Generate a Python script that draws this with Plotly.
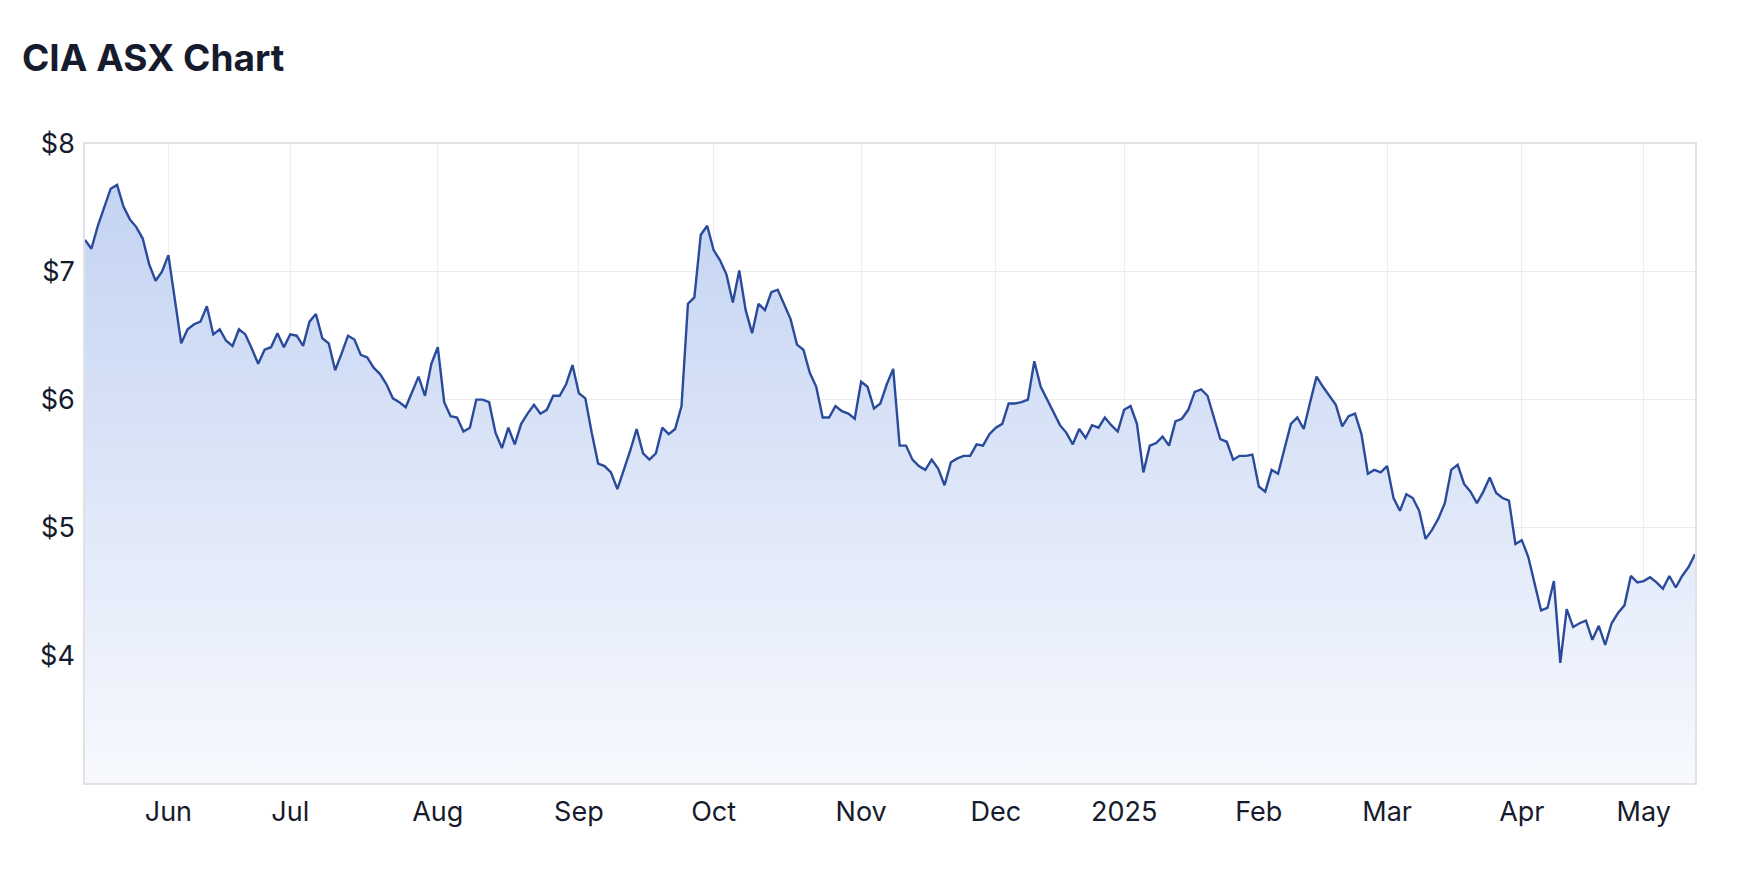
import pandas as pd
import plotly.graph_objects as go

# ---- data ----
START_DATE = "2024-05-15"
END_DATE = "2025-05-13"
ASX_HOLIDAYS = ["2024-06-10", "2024-12-25", "2024-12-26", "2025-01-01",
                "2025-01-27", "2025-04-18", "2025-04-21", "2025-04-25"]

PRICES = [
    7.25, 7.18, 7.36, 7.50, 7.65, 7.68, 7.51, 7.41, 7.35, 7.26, 7.06, 6.93, 7.00, 7.13,
    6.78,
    6.44, 6.55, 6.59, 6.61, 6.73, 6.51, 6.55, 6.46, 6.42, 6.55, 6.51, 6.40, 6.28, 6.39, 6.41, 6.52, 6.41,
    6.51, 6.50, 6.42, 6.61, 6.67, 6.48, 6.44, 6.23, 6.36, 6.50, 6.47, 6.35, 6.33, 6.25, 6.20, 6.12,
    6.01, 5.98, 5.94, 6.06, 6.18, 6.03, 6.28, 6.41,
    5.98, 5.87, 5.86, 5.75, 5.78,
    6.00, 6.00, 5.98, 5.74, 5.62, 5.78, 5.65, 5.81, 5.89, 5.96,
    5.89, 5.92, 6.03, 6.03, 6.12, 6.27, 6.05, 6.01, 5.74, 5.50,
    5.48, 5.43, 5.30, 5.45, 5.60, 5.77, 5.58, 5.53, 5.58, 5.78,
    5.73, 5.77, 5.95, 6.75, 6.80, 7.29, 7.36, 7.17, 7.09, 6.98,
    6.76, 7.01, 6.70, 6.52, 6.75, 6.70, 6.84, 6.86, 6.75, 6.63,
    6.43, 6.39, 6.21, 6.10, 5.86, 5.86, 5.95, 5.91, 5.89, 5.85,
    6.14, 6.10, 5.93, 5.97, 6.12, 6.24, 5.64, 5.64, 5.53, 5.48,
    5.45, 5.53, 5.46, 5.33, 5.51, 5.54, 5.56, 5.56, 5.65, 5.64,
    5.73, 5.78, 5.81, 5.97, 5.97, 5.98, 6.00, 6.30, 6.10, 6.00,
    5.89, 5.80, 5.74, 5.65, 5.77, 5.70, 5.80, 5.78, 5.86, 5.80,
    5.75, 5.92, 5.95, 5.81, 5.43, 5.64, 5.66, 5.71, 5.64, 5.83,
    5.85, 5.92, 6.06, 6.08, 6.03, 5.86, 5.69, 5.67, 5.53, 5.56,
    5.56, 5.57, 5.32, 5.28, 5.45, 5.42, 5.61, 5.81, 5.86, 5.77,
    5.98, 6.18, 6.10, 6.03, 5.96, 5.79, 5.87, 5.89, 5.73, 5.42,
    5.45, 5.43, 5.48, 5.23, 5.13, 5.26, 5.23, 5.13, 4.91, 4.98,
    5.07, 5.19, 5.45, 5.49, 5.34, 5.28, 5.19, 5.28, 5.39, 5.27,
    5.23, 5.21, 4.87, 4.90, 4.77, 4.56, 4.35, 4.37, 4.58, 3.94,
    4.36, 4.22, 4.25, 4.27, 4.12, 4.23, 4.08, 4.25, 4.33, 4.39,
    4.62, 4.57, 4.58, 4.61, 4.57, 4.52, 4.62, 4.53, 4.62, 4.69, 4.79,
]

MONTH_LABELS = ["Jun", "Jul", "Aug", "Sep", "Oct", "Nov", "Dec", "2025", "Feb", "Mar", "Apr", "May"]
Y_TICKS = [4, 5, 6, 7, 8]
Y_TICK_LABELS = ["$4", "$5", "$6", "$7", "$8"]
TITLE = "CIA ASX Chart"

# ---- trading-day axis ----
dates = pd.bdate_range(START_DATE, END_DATE, freq="C", holidays=ASX_HOLIDAYS)
n = min(len(dates), len(PRICES))
dates = dates[:n]
prices = PRICES[:n]
idx = list(range(n))

month_starts = []
for i in range(1, n):
    if dates[i].month != dates[i - 1].month:
        month_starts.append(i)
month_starts = month_starts[:len(MONTH_LABELS)]

TEXT = "#161c2d"
GRID = "#ececef"

# page body has an 8px margin; figure sized to fit inside the window
W, H = 1722, 876

fig = go.Figure()
fig.add_trace(go.Scatter(
    x=idx, y=prices, mode="lines",
    line=dict(color="#2a4b9b", width=2.4),
    fill="tozeroy",
    fillgradient=dict(type="vertical", start=3, stop=7.7,
                      colorscale=[[0, "#f7f9fe"], [1, "#c3d3f2"]]),
    customdata=[d.strftime("%d %b %Y") for d in dates],
    hovertemplate="%{customdata}<br>$%{y:.2f}<extra></extra>",
))

fig.update_layout(
    width=W, height=H,
    margin=dict(l=77, r=35, t=136, b=101),
    paper_bgcolor="white", plot_bgcolor="white",
    showlegend=False,
    font=dict(family="Inter, Helvetica, Arial, sans-serif", color=TEXT),
    title=dict(text=TITLE, xref="container", yref="container",
               x=14 / W, xanchor="left", y=1 - 50 / H, yanchor="middle",
               font=dict(family="Inter", size=37, weight=700, color=TEXT)),
)
fig.update_xaxes(
    range=[0, n - 1], tickmode="array", tickvals=month_starts, ticktext=MONTH_LABELS,
    showgrid=True, gridcolor=GRID, gridwidth=1,
    showline=True, linecolor="#e2e2e6", linewidth=1.5, mirror=True,
    ticks="", ticklabelstandoff=4, tickfont=dict(size=27, color=TEXT),
    zeroline=False,
)
fig.update_yaxes(
    range=[3, 8], tickmode="array", tickvals=Y_TICKS, ticktext=Y_TICK_LABELS,
    showgrid=True, gridcolor=GRID, gridwidth=1,
    showline=True, linecolor="#e2e2e6", linewidth=1.5, mirror=True,
    ticks="", ticklabelstandoff=3, tickfont=dict(size=27, color=TEXT),
    zeroline=False,
)

fig.write_html("out.html")
